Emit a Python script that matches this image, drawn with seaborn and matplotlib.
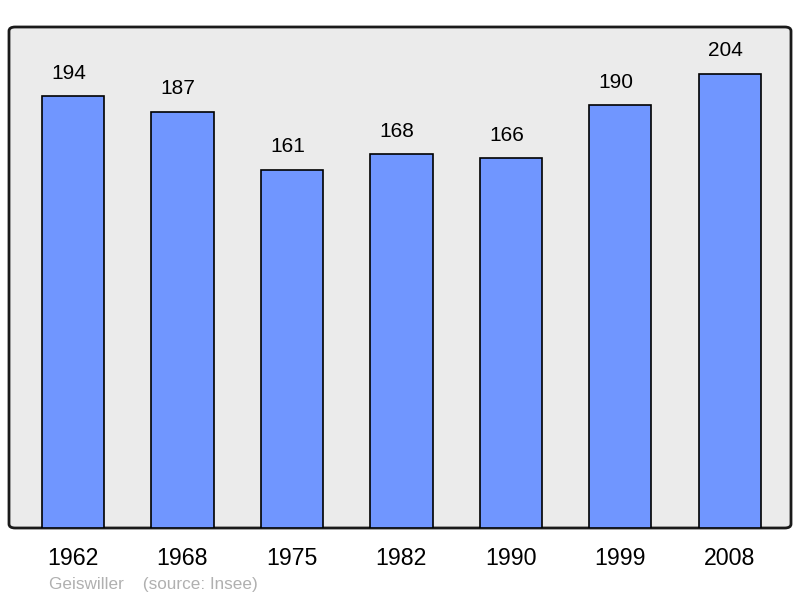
import pandas as pd
import matplotlib.pyplot as plt
import seaborn as sns
from matplotlib.patches import FancyBboxPatch

years = ['1962', '1968', '1975', '1982', '1990', '1999', '2008']
population = [194, 187, 161, 168, 166, 190, 204]

df = pd.DataFrame({'year': years, 'population': population})

sns.set_style('white')
plt.rcParams['font.family'] = ['Liberation Sans', 'DejaVu Sans']

fig = plt.figure(figsize=(8, 5.98), dpi=100)
ax = fig.add_axes([9 / 800, 70 / 598, 782 / 800, 501 / 598])
ax.set_facecolor('none')

# rounded frame behind the bars
frame = FancyBboxPatch((0, 0), 1, 1,
                       boxstyle='round,pad=0,rounding_size=0.008',
                       transform=ax.transAxes, facecolor='#ebebeb',
                       edgecolor='#1a1a1a', linewidth=2, zorder=0,
                       clip_on=False)
ax.add_patch(frame)

sns.barplot(data=df, x='year', y='population', color='#7096ff',
            edgecolor='black', linewidth=1.2, width=0.57, saturation=1,
            zorder=2, ax=ax)

ax.set_xlim(-0.585, 6.56)
ax.set_ylim(0, 225)
for s in ax.spines.values():
    s.set_visible(False)
ax.set_yticks([])
ax.set_xlabel('')
ax.set_ylabel('')
ax.tick_params(axis='x', length=0, labelsize=16.7, pad=14, labelcolor='black')

# value labels above bars
for i, v in enumerate(population):
    ax.annotate(str(v), (i, v), xytext=(-3, 16.5), textcoords='offset points',
                ha='center', va='center', fontsize=15, color='black')

fig.text(49 / 800, 1 - 584 / 598, 'Geiswiller    (source: Insee)',
         color='#b0b0b0', fontsize=12.3, va='center', ha='left')

plt.savefig('out.png', dpi=100)
plt.close()
